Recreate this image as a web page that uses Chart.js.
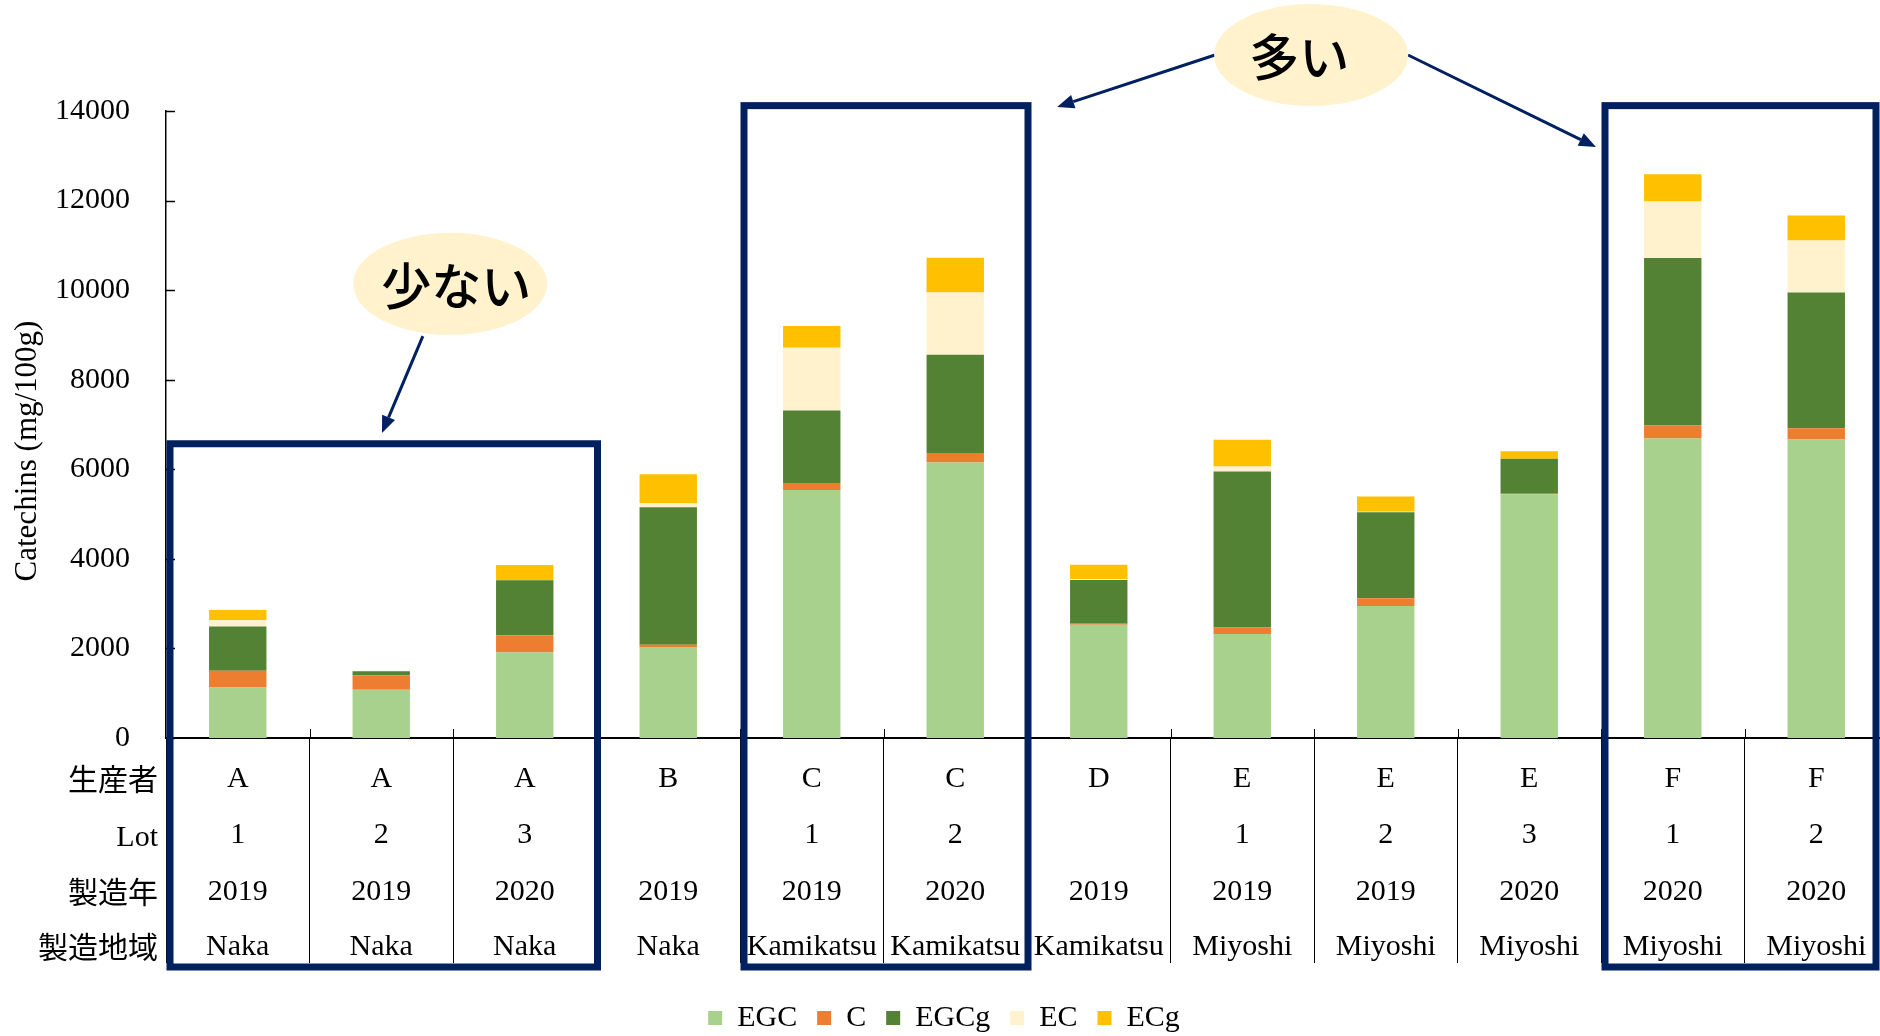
<!DOCTYPE html>
<html lang="ja">
<head>
<meta charset="utf-8">
<title>Catechins</title>
<script src="https://cdn.jsdelivr.net/npm/chart.js@4.4.1/dist/chart.umd.min.js"></script>
<style>
  html, body { margin: 0; padding: 0; background: #fff; overflow: hidden; }
  #wrap { position: relative; width: 1888px; height: 1043px; }
</style>
</head>
<body>
<div id="wrap"><canvas id="grafico-catequinas"></canvas></div>
<script>
// categorias (tabela abaixo do eixo)
const produtores = ["A", "A", "A", "B", "C", "C", "D", "E", "E", "E", "F", "F"];
const lotes = ["1", "2", "3", "", "1", "2", "", "1", "2", "3", "1", "2"];
const anos = ["2019", "2019", "2020", "2019", "2019", "2020", "2019", "2019", "2019", "2020", "2020", "2020"];
const regioes = ["Naka", "Naka", "Naka", "Naka", "Kamikatsu", "Kamikatsu", "Kamikatsu",
  "Miyoshi", "Miyoshi", "Miyoshi", "Miyoshi", "Miyoshi"];
const cabecalhos = ["生産者", "Lot", "製造年", "製造地域"];

// séries (mg/100g)
const valoresEGC  = [1130, 1080, 1910, 2030, 5540, 6150, 2530, 2320, 2945, 5445, 6690, 6665];
const valoresC    = [370, 320, 385, 50, 155, 215, 40, 150, 175, 10, 290, 250];
const valoresEGCg = [990, 90, 1230, 3070, 1620, 2190, 960, 3480, 1920, 780, 3740, 3035];
const valoresEC   = [145, 10, 0, 100, 1400, 1395, 20, 110, 10, 0, 1260, 1160];
const valoresECg  = [225, 0, 340, 640, 485, 775, 320, 600, 340, 165, 610, 555];

const ticksY = [0, 2000, 4000, 6000, 8000, 10000, 12000, 14000];

const SERIF = "'Liberation Serif', 'Times New Roman', serif";
const GOTHIC = "'Noto Sans CJK JP', sans-serif";
const AZUL = "#002060";

// destaques: grupos de categorias e balões (coordenadas em unidades das escalas)
const grupos = [
  { de: 0, ate: 2, topo: 6570 },
  { de: 4, ate: 5, topo: 14120 },
  { de: 10, ate: 11, topo: 14120 },
];
const baloes = [
  { texto: "少ない", x: 1.48, y: 10140, dx: 6, setas: [[1.29, 8975, 1.005, 6810]] },
  { texto: "多い", x: 7.48, y: 15250, dx: -12, setas: [[6.81, 15250, 5.71, 14090], [8.155, 15250, 9.465, 13195]] },
];

function seta(ctx, x1, y1, x2, y2) {
  const ang = Math.atan2(y2 - y1, x2 - x1);
  const tam = 17;
  const bx = x2 - tam * Math.cos(ang), by = y2 - tam * Math.sin(ang);
  ctx.beginPath();
  ctx.moveTo(x1, y1);
  ctx.lineTo(bx, by);
  ctx.stroke();
  ctx.beginPath();
  ctx.moveTo(x2, y2);
  ctx.lineTo(bx + 7 * Math.sin(ang), by - 7 * Math.cos(ang));
  ctx.lineTo(bx - 7 * Math.sin(ang), by + 7 * Math.cos(ang));
  ctx.closePath();
  ctx.fill();
}

const pluginDecoracao = {
  id: "decoracao",
  afterDraw(chart) {
    const { ctx, chartArea, scales: { x, y } } = chart;
    const base = chartArea.bottom;
    const larg = x.getPixelForValue(1) - x.getPixelForValue(0);
    ctx.save();

    // marcas internas do eixo Y
    ctx.strokeStyle = "#000";
    ctx.lineWidth = 1.5;
    ticksY.forEach(v => {
      const py = Math.round(y.getPixelForValue(v)) + 0.5;
      ctx.beginPath();
      ctx.moveTo(chartArea.left, py);
      ctx.lineTo(chartArea.left + 9, py);
      ctx.stroke();
    });

    // pequenas marcas acima do eixo X nas divisões
    ctx.lineWidth = 1;
    for (let i = 1; i < produtores.length; i++) {
      const px = Math.round(x.getPixelForValue(i) - larg / 2) + 0.5;
      ctx.beginPath();
      ctx.moveTo(px, base - 9);
      ctx.lineTo(px, base);
      ctx.stroke();
    }

    // título do eixo Y
    ctx.save();
    ctx.translate(28, 451);
    ctx.rotate(-Math.PI / 2);
    ctx.fillStyle = "#000";
    ctx.font = `31px ${SERIF}`;
    ctx.textAlign = "center";
    ctx.textBaseline = "middle";
    ctx.fillText("Catechins (mg/100g)", 0, 0);
    ctx.restore();

    // tabela de categorias
    const linhas = [produtores, lotes, anos, regioes];
    const deslocamentos = [49, 105, 162, 217];
    ctx.fillStyle = "#000";
    ctx.textBaseline = "alphabetic";
    linhas.forEach((linha, r) => {
      ctx.font = `30px ${SERIF}`;
      ctx.textAlign = "center";
      linha.forEach((txt, i) => {
        ctx.fillText(txt, x.getPixelForValue(i), base + deslocamentos[r]);
      });
      ctx.textAlign = "right";
      const cab = cabecalhos[r];
      ctx.font = /^[A-Za-z]/.test(cab) ? `30px ${SERIF}` : `30px ${GOTHIC}`;
      ctx.fillText(cab, 158, base + deslocamentos[r] + 3);
    });

    // caixas de destaque
    ctx.strokeStyle = AZUL;
    ctx.lineWidth = 7;
    grupos.forEach(g => {
      const esq = x.getPixelForValue(g.de) - larg / 2 + 4;
      const dir = Math.min(x.getPixelForValue(g.ate) + larg / 2 + 1, 1876);
      const topo = y.getPixelForValue(g.topo);
      const fundo = base + 229;
      ctx.strokeRect(esq, topo, dir - esq, fundo - topo);
    });

    // balões e setas
    baloes.forEach(b => {
      const cx = x.getPixelForValue(b.x), cy = y.getPixelForValue(b.y);
      ctx.fillStyle = AZUL;
      ctx.strokeStyle = AZUL;
      ctx.lineWidth = 3;
      b.setas.forEach(s => {
        seta(ctx, x.getPixelForValue(s[0]), y.getPixelForValue(s[1]),
          x.getPixelForValue(s[2]), y.getPixelForValue(s[3]));
      });
      ctx.fillStyle = "#FFF2CC";
      ctx.beginPath();
      ctx.ellipse(cx, cy, 97, 51, 0, 0, Math.PI * 2);
      ctx.fill();
      ctx.fillStyle = "#000";
      ctx.font = `500 50px ${GOTHIC}`;
      ctx.textAlign = "center";
      ctx.textBaseline = "middle";
      ctx.fillText(b.texto, cx + b.dx, cy + 2);
    });

    ctx.restore();
  },
};

Chart.defaults.font.family = SERIF;
Chart.defaults.color = "#000";

new Chart(document.getElementById("grafico-catequinas"), {
  type: "bar",
  data: {
    labels: produtores,
    datasets: [
      { label: "EGC", data: valoresEGC, backgroundColor: "#A9D18E" },
      { label: "C", data: valoresC, backgroundColor: "#ED7D31" },
      { label: "EGCg", data: valoresEGCg, backgroundColor: "#548235" },
      { label: "EC", data: valoresEC, backgroundColor: "#FFF2CC" },
      { label: "ECg", data: valoresECg, backgroundColor: "#FFC000" },
    ],
  },
  options: {
    responsive: true,
    maintainAspectRatio: false,
    animation: false,
    devicePixelRatio: 1,
    layout: { padding: { top: 111, left: 0, right: 0, bottom: 0 } },
    datasets: { bar: { categoryPercentage: 0.4, barPercentage: 1, borderWidth: 0 } },
    plugins: {
      title: { display: false },
      tooltip: { enabled: false },
      legend: {
        display: true,
        position: "bottom",
        labels: {
          boxWidth: 14,
          boxHeight: 14,
          padding: 20,
          color: "#000",
          font: { family: SERIF, size: 30 },
        },
      },
    },
    scales: {
      x: {
        stacked: true,
        offset: true,
        ticks: { display: false },
        grid: { display: true, offset: true, drawOnChartArea: false, drawTicks: true, tickLength: 225, color: "#000", lineWidth: 1 },
        border: { display: true, color: "#000", width: 2 },
        afterFit: (scale) => { scale.height = 245; },
      },
      y: {
        stacked: true,
        min: 0,
        max: 14000,
        afterBuildTicks: (scale) => { scale.ticks = ticksY.map(v => ({ value: v })); },
        ticks: {
          color: "#000",
          font: { family: SERIF, size: 30 },
          padding: 36,
          callback: (valor) => String(valor),
        },
        grid: { display: false, drawTicks: false },
        border: { display: true, color: "#000", width: 1.5 },
        afterFit: (scale) => { scale.width = 166; },
      },
    },
  },
  plugins: [pluginDecoracao],
});
</script>
</body>
</html>
